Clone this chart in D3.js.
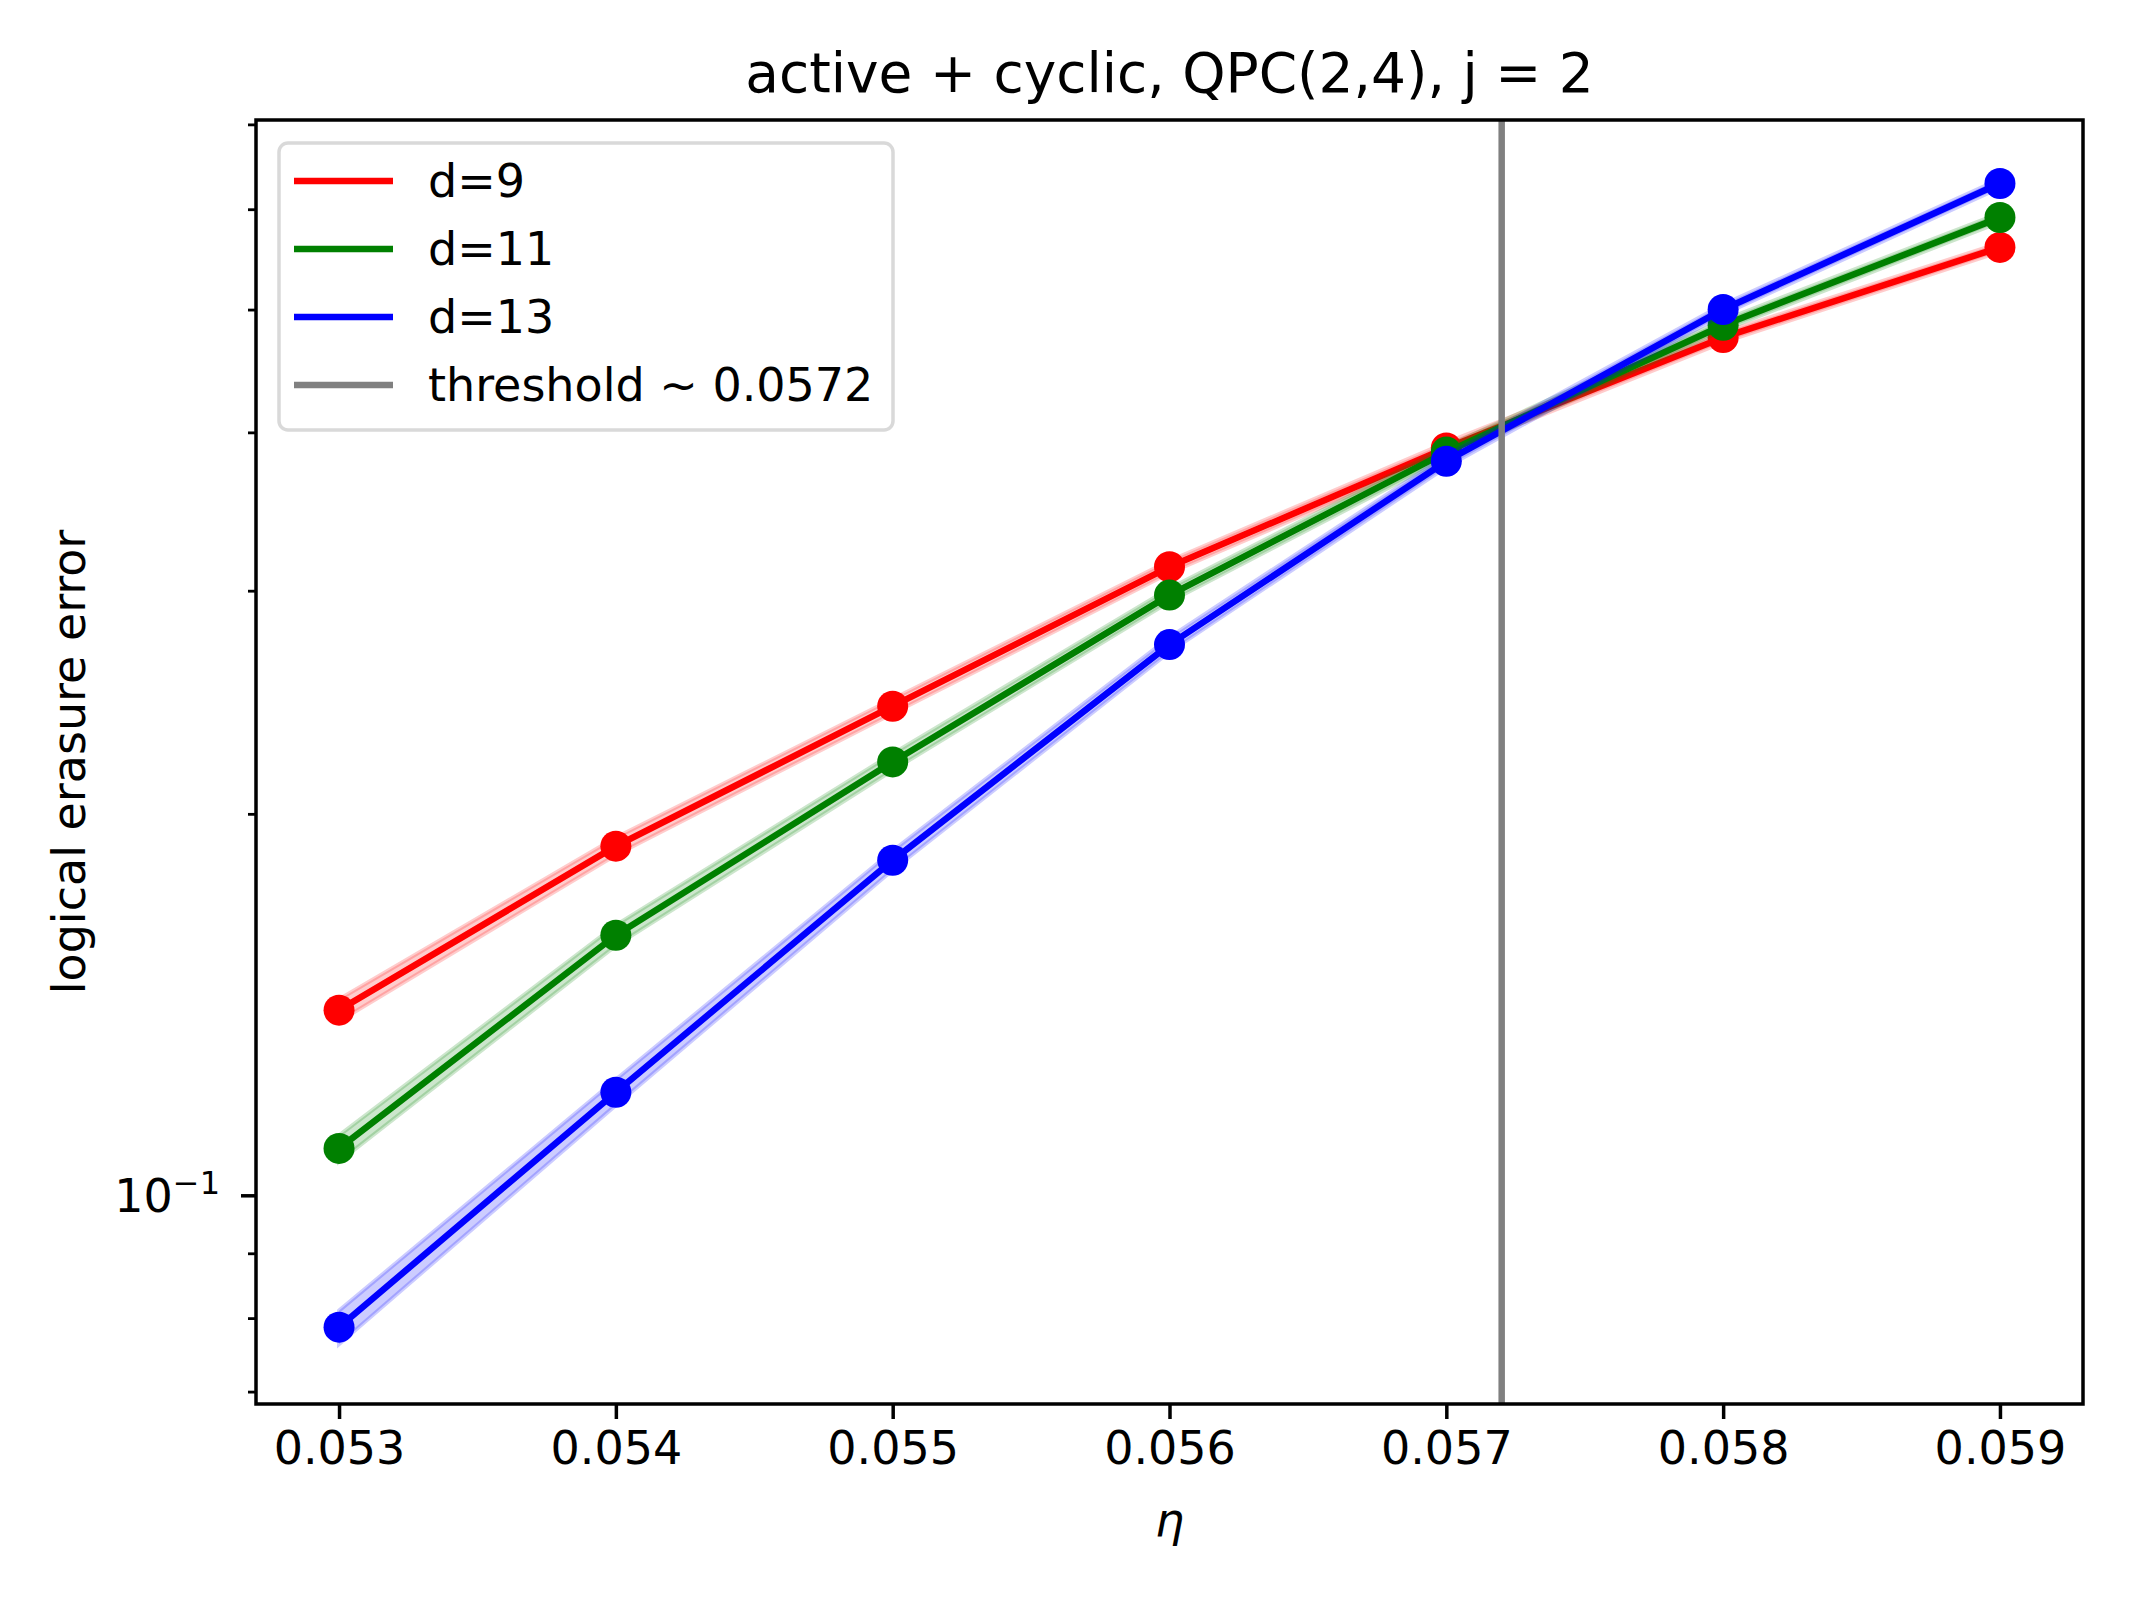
<!DOCTYPE html>
<html>
<head>
<meta charset="utf-8">
<script src="https://cdn.jsdelivr.net/npm/d3@7"></script>
<style>
  html, body { margin: 0; padding: 0; background: #ffffff; }
  svg { display: block; }
  text { font-family: "DejaVu Sans", sans-serif; fill: #000; }
</style>
</head>
<body>
<script>
// ---------------- data ----------------
const eta = [0.053, 0.054, 0.055, 0.056, 0.057, 0.058, 0.059];
const d9  = [0.1400, 0.1886, 0.2432, 0.3133, 0.3888, 0.4753, 0.5598];
const d11 = [0.1089, 0.1604, 0.2198, 0.2976, 0.3859, 0.4860, 0.5910];
const d13 = [0.0787, 0.1206, 0.1838, 0.2720, 0.3796, 0.5001, 0.6288];
const d9err  = [0.0028, 0.0030, 0.0032, 0.0035, 0.0038, 0.0042, 0.0045];
const d11err = [0.0026, 0.0030, 0.0033, 0.0036, 0.0040, 0.0044, 0.0048];
const d13err = [0.0024, 0.0028, 0.0032, 0.0036, 0.0040, 0.0045, 0.0050];
const seriesNames = ["d=9", "d=11", "d=13"];
const seriesColors = ["#ff0000", "#008000", "#0000ff"];
const threshold = 0.0572;
const thresholdLabel = "threshold ~ 0.0572";
const xTicks = [0.053, 0.054, 0.055, 0.056, 0.057, 0.058, 0.059];
const yMajorTicks = [0.1];
const yMinorTicks = [0.07, 0.08, 0.09, 0.2, 0.3, 0.4, 0.5, 0.6, 0.7];
const titleText = "active + cyclic, QPC(2,4), j = 2";
const yLabelText = "logical erasure error";

// ---------------- layout ----------------
const W = 2133, H = 1599;
const L = 256, R = 2083, T = 120, B = 1404;

const series = [
  { name: seriesNames[0], color: seriesColors[0], y: d9,  e: d9err },
  { name: seriesNames[1], color: seriesColors[1], y: d11, e: d11err },
  { name: seriesNames[2], color: seriesColors[2], y: d13, e: d13err },
];

const svg = d3.select("body").append("svg")
  .attr("width", W).attr("height", H)
  .attr("viewBox", `0 0 ${W} ${H}`);
svg.append("rect").attr("width", W).attr("height", H).attr("fill", "#fff");

const x = d3.scaleLinear().domain([0.0527, 0.0593]).range([L, R]);
const y = d3.scaleLog().domain([0.06844, 0.7056]).range([B, T]);

const clipId = "plotclip";
svg.append("defs").append("clipPath").attr("id", clipId)
  .append("rect").attr("x", L).attr("y", T).attr("width", R - L).attr("height", B - T);

const plot = svg.append("g").attr("clip-path", `url(#${clipId})`);

const area = d3.area()
  .x((d, i) => x(eta[i]))
  .y0(d => y(d[0] - d[1]))
  .y1(d => y(d[0] + d[1]));
const line = d3.line().x((d, i) => x(eta[i])).y(d => y(d));

series.forEach(s => {
  const g = plot.append("g");
  g.append("path")
    .datum(s.y.map((v, i) => [v, s.e[i]]))
    .attr("d", area)
    .attr("fill", s.color).attr("fill-opacity", 0.2)
    .attr("stroke", s.color).attr("stroke-opacity", 0.2).attr("stroke-width", 4);
  g.append("path")
    .datum(s.y)
    .attr("d", line)
    .attr("fill", "none").attr("stroke", s.color)
    .attr("stroke-width", 6.5).attr("stroke-linejoin", "round").attr("stroke-linecap", "square");
  g.selectAll("circle").data(s.y).enter().append("circle")
    .attr("cx", (d, i) => x(eta[i]))
    .attr("cy", d => y(d))
    .attr("r", 15.5)
    .attr("fill", s.color);
});

// threshold line
plot.append("line")
  .attr("x1", x(threshold)).attr("x2", x(threshold))
  .attr("y1", T).attr("y2", B)
  .attr("stroke", "#808080").attr("stroke-width", 6.5);

// ---------------- axes ----------------
const xAxis = d3.axisBottom(x).tickValues(xTicks).tickSize(15).tickPadding(12)
  .tickFormat(d3.format(".3f"));
const gx = svg.append("g").attr("transform", `translate(0,${B})`).call(xAxis);
gx.select(".domain").remove();
gx.selectAll(".tick line").attr("stroke", "#000").attr("stroke-width", 3.5);
gx.selectAll(".tick text").attr("font-size", 46).attr("font-family", "DejaVu Sans").attr("fill", "#000");

const yAxisMinor = d3.axisLeft(y).tickValues(yMinorTicks).tickSize(8).tickFormat("");
const gym = svg.append("g").attr("transform", `translate(${L},0)`).call(yAxisMinor);
gym.select(".domain").remove();
gym.selectAll(".tick line").attr("stroke", "#000").attr("stroke-width", 2.8);

const yAxisMajor = d3.axisLeft(y).tickValues(yMajorTicks).tickSize(15).tickFormat("");
const gyM = svg.append("g").attr("transform", `translate(${L},0)`).call(yAxisMajor);
gyM.select(".domain").remove();
gyM.selectAll(".tick line").attr("stroke", "#000").attr("stroke-width", 3.5);

// 10^-1 label
yMajorTicks.forEach(v => {
  const exp = Math.round(Math.log10(v));
  const t = svg.append("text")
    .attr("x", 220).attr("y", y(v) + 17)
    .attr("text-anchor", "end")
    .attr("font-size", 46);
  t.append("tspan").text("10");
  t.append("tspan").attr("dy", -18).attr("font-size", 32).text("\u2212" + Math.abs(exp));
});

// frame
svg.append("rect")
  .attr("x", L).attr("y", T).attr("width", R - L).attr("height", B - T)
  .attr("fill", "none").attr("stroke", "#000").attr("stroke-width", 3.5);

// title & labels
svg.append("text").attr("x", (L + R) / 2).attr("y", 92)
  .attr("text-anchor", "middle").attr("font-size", 55).text(titleText);

svg.append("text").attr("x", (L + R) / 2).attr("y", 1536)
  .attr("text-anchor", "middle").attr("font-size", 46).attr("font-style", "italic")
  .text("\u03b7");

svg.append("text")
  .attr("transform", `translate(85,${(T + B) / 2}) rotate(-90)`)
  .attr("text-anchor", "middle").attr("font-size", 46).text(yLabelText);

// ---------------- legend ----------------
const lg = svg.append("g");
lg.append("rect")
  .attr("x", 279).attr("y", 143).attr("width", 614).attr("height", 287)
  .attr("rx", 9).attr("ry", 9)
  .attr("fill", "#fff").attr("fill-opacity", 0.8)
  .attr("stroke", "#d9d9d9").attr("stroke-width", 3.5);
const legendItems = series.map(s => ({ name: s.name, color: s.color }))
  .concat([{ name: thresholdLabel, color: "#808080" }]);
legendItems.forEach((it, i) => {
  const cy = 181 + i * 68;
  lg.append("line").attr("x1", 294).attr("x2", 393).attr("y1", cy).attr("y2", cy)
    .attr("stroke", it.color).attr("stroke-width", 6.5);
  lg.append("text").attr("x", 428).attr("y", cy + 16).attr("font-size", 46).text(it.name);
});
</script>
</body>
</html>
